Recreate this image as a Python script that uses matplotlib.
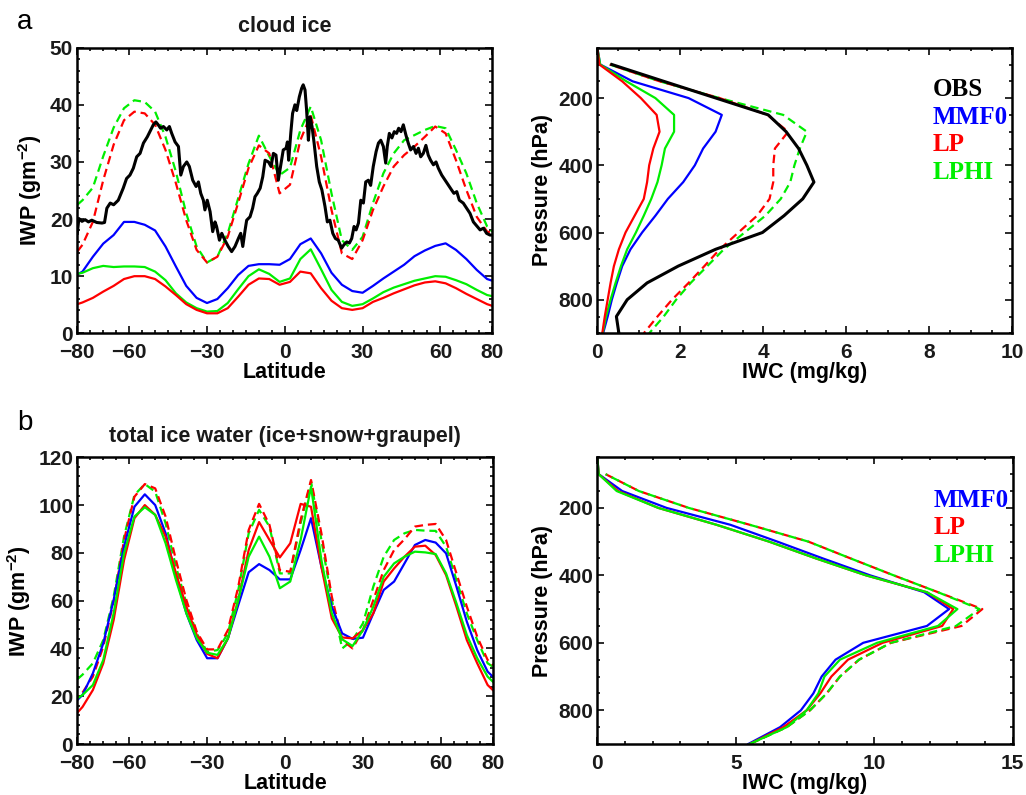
import numpy as np
import matplotlib
matplotlib.use('Agg')
import matplotlib.pyplot as plt
from matplotlib.ticker import MultipleLocator

# ---- data -------------------------------------------------------------------
# model latitudes (4 degree grid plus edges)
lat = [-80, -78, -74, -70, -66, -62, -58, -54, -50, -46, -42, -38, -34, -30, -26,
       -22, -18, -14, -10, -6, -2, 2, 6, 10, 14, 18, 22, 26, 30, 34, 38, 42, 46,
       50, 54, 58, 62, 66, 70, 74, 78, 80]

# (a) cloud ice IWP
ci_mmf0 = [10.3, 10.8, 13.4, 15.7, 17.2, 19.5, 19.5, 19.0, 18.0, 15.2, 11.7, 8.3, 6.2,
           5.3, 6.0, 7.9, 10.2, 11.8, 12.1, 12.1, 12.0, 13.0, 15.6, 16.6, 14.0, 10.6,
           8.5, 7.4, 7.1, 8.3, 9.6, 10.8, 12.0, 13.5, 14.5, 15.3, 15.75, 14.6, 13.0,
           11.1, 9.5, 9.2]
ci_lp = [5.1, 5.4, 6.2, 7.3, 8.3, 9.5, 10.0, 10.0, 9.5, 8.2, 6.7, 5.1, 4.1, 3.5, 3.5,
         4.4, 6.4, 8.5, 9.6, 9.5, 8.5, 9.0, 10.8, 10.5, 7.9, 5.7, 4.4, 4.1, 4.4, 5.5,
         6.2, 7.0, 7.7, 8.4, 8.9, 9.1, 8.75, 7.9, 6.9, 6.0, 5.1, 4.8]
ci_lphi = [10.4, 10.6, 11.4, 11.8, 11.6, 11.7, 11.7, 11.6, 10.8, 9.3, 7.0, 5.4, 4.4,
           3.8, 3.9, 5.3, 7.7, 10.0, 11.2, 10.4, 9.0, 9.6, 13.0, 14.7, 11.2, 7.6, 5.5,
           4.8, 5.1, 6.1, 7.2, 8.0, 8.6, 9.2, 9.6, 10.0, 9.9, 9.3, 8.6, 7.6, 6.7, 6.5]
ci_lp_tot = [14.3, 15.5, 19.5, 26.8, 33.0, 37.3, 38.8, 38.5, 36.5, 32.1, 26.3, 19.8,
             14.6, 12.4, 13.4, 16.9, 22.8, 28.9, 32.9, 31.5, 24.5, 26.0, 33.8, 38.2,
             30.9, 21.6, 14.0, 13.0, 16.3, 21.6, 25.7, 29.2, 31.2, 32.7, 34.4, 36.2,
             35.0, 30.3, 25.1, 20.4, 17.8, 17.6]
ci_lphi_tot = [22.5, 23.3, 25.5, 31.0, 36.0, 39.4, 40.8, 40.5, 38.8, 34.4, 28.3, 21.0,
               15.2, 12.4, 13.4, 17.5, 23.6, 29.7, 34.6, 31.0, 27.7, 29.0, 35.6, 39.7,
               33.8, 24.5, 16.3, 14.6, 16.9, 22.8, 28.0, 31.5, 33.8, 34.7, 35.6, 36.3,
               35.9, 32.1, 28.0, 22.8, 18.7, 17.8]

obs_lat = [-80.0, -79.4, -78.2, -77.0, -75.7, -74.4, -72.5, -70.5, -69.5, -68.6, -67.3,
           -66.0, -64.2, -62.3, -61.0, -59.7, -58.4, -57.1, -55.8, -54.5, -53.0, -52.0,
           -50.7, -49.7, -48.8, -47.9, -46.8, -45.5, -44.5, -43.6, -42.3, -41.0, -40.1,
           -39.1, -37.8, -36.8, -35.5, -34.2, -33.3, -32.4, -31.4, -30.8, -29.9, -28.8,
           -27.8, -26.9, -26.3, -25.2, -24.3, -23.1, -21.8, -20.5, -19.2, -17.9, -17.0,
           -16.2, -15.3, -14.7, -13.4, -12.4, -11.5, -10.6, -9.5, -8.5, -7.6, -6.3,
           -5.3, -4.4, -3.4, -2.5, -1.4, -0.6, 0.5, 1.0, 1.5, 2.3, 3.0, 3.9, 4.6, 5.6,
           6.5, 7.1, 7.8, 8.4, 9.1, 9.7, 10.5, 11.3, 12.3, 13.3, 14.3, 15.5, 16.4,
           17.4, 18.5, 19.5, 20.6, 21.9, 22.8, 23.9, 24.9, 25.8, 26.7, 27.5, 28.4,
           29.3, 30.3, 31.2, 32.2, 33.1, 34.1, 35.2, 36.1, 37.0, 38.0, 38.9, 39.5,
           40.3, 41.3, 42.2, 43.1, 43.9, 44.8, 45.7, 46.7, 47.6, 48.5, 49.6, 50.6,
           51.5, 52.4, 53.4, 54.4, 55.3, 56.2, 57.3, 58.3, 59.2, 60.5, 61.8, 63.1,
           64.3, 65.2, 66.3, 67.3, 68.8, 70.1, 71.4, 72.7, 74.2, 75.3, 76.6, 77.8,
           79.1, 80.0]
obs_iwp = [17.5, 20.1, 19.6, 19.9, 19.5, 19.8, 19.4, 19.3, 19.4, 21.9, 22.8, 22.5, 23.3,
           25.4, 27.1, 27.7, 28.9, 30.9, 31.5, 33.3, 34.4, 35.3, 36.5, 37.0, 36.5, 35.9,
           36.2, 35.6, 36.2, 35.0, 33.5, 32.7, 27.7, 29.2, 30.0, 29.2, 26.8, 25.7, 26.5,
           24.5, 23.3, 21.6, 23.3, 21.3, 17.8, 19.5, 18.7, 16.3, 17.5, 16.3, 15.2, 14.3,
           15.2, 16.6, 17.5, 15.2, 18.1, 19.8, 20.4, 21.9, 23.9, 24.5, 25.4, 27.4, 30.3,
           30.0, 29.2, 31.5, 31.2, 26.8, 29.8, 32.1, 32.4, 33.5, 30.3, 35.0, 38.5, 40.0,
           39.0, 41.4, 42.9, 43.5, 42.6, 39.1, 33.8, 37.9, 36.2, 33.3, 29.2, 26.5, 25.1,
           22.2, 19.5, 19.8, 17.5, 16.6, 16.3, 14.9, 15.5, 16.0, 15.8, 16.6, 18.7, 18.1,
           19.3, 23.3, 22.8, 26.5, 26.8, 25.9, 29.2, 31.8, 33.3, 33.8, 32.7, 29.8, 32.7,
           35.0, 34.2, 35.3, 35.0, 35.9, 35.3, 36.5, 34.7, 33.3, 32.1, 32.7, 31.5, 32.4,
           30.9, 31.5, 32.9, 31.2, 30.3, 29.5, 30.0, 28.9, 27.7, 26.8, 25.9, 25.1, 24.5,
           24.8, 23.3, 22.8, 21.9, 21.0, 19.5, 18.7, 18.1, 18.4, 17.5, 17.2, 17.2]

# (b) total ice water IWP
ti_mmf0 = [18.4, 20.5, 29.6, 42.1, 60.3, 82.6, 99.3, 104.5, 100.0, 88.2, 70.0, 54.7,
           43.5, 35.9, 35.9, 44.2, 58.2, 71.9, 75.3, 72.8, 68.9, 68.9, 81.2, 94.5, 74.2,
           57.5, 46.3, 44.0, 44.5, 54.7, 64.5, 68.0, 75.6, 83.3, 85.4, 84.3, 79.8, 65.9,
           51.2, 39.3, 30.3, 28.2]
ti_lp = [13.1, 15.5, 22.6, 33.8, 51.9, 77.0, 94.5, 100.0, 95.9, 86.8, 71.4, 57.5, 45.6,
         37.7, 35.9, 44.2, 60.3, 81.2, 92.9, 85.4, 78.1, 84.0, 100.5, 99.3, 74.2, 52.6,
         44.6, 44.2, 47.7, 54.7, 68.0, 73.5, 78.4, 82.6, 83.0, 79.1, 70.7, 57.5, 43.5,
         33.8, 24.7, 22.6]
ti_lphi = [19.1, 20.5, 24.7, 35.2, 54.7, 79.8, 95.2, 99.1, 95.9, 84.0, 68.6, 54.7, 44.2,
           38.2, 37.3, 44.2, 60.3, 78.4, 86.8, 78.4, 65.2, 68.0, 85.4, 107.7, 77.0, 54.7,
           43.8, 41.0, 47.7, 57.5, 70.0, 75.6, 78.4, 80.5, 80.2, 79.5, 71.4, 58.9, 45.6,
           35.9, 28.2, 26.1]
ti_lp_tot = [19.8, 21.5, 28.2, 40.7, 59.6, 85.4, 103.5, 108.8, 107.0, 95.2, 77.0, 60.3,
             47.0, 39.6, 39.6, 47.7, 65.9, 89.6, 100.5, 91.7, 72.8, 72.1, 93.8, 110.5,
             88.2, 61.7, 43.5, 40.0, 47.7, 60.3, 72.8, 81.2, 85.7, 91.0, 91.7, 92.1,
             85.4, 71.4, 57.5, 44.9, 35.2, 33.1]
ti_lphi_tot = [27.1, 29.0, 33.8, 43.5, 61.7, 86.8, 104.2, 108.8, 105.6, 92.4, 74.2, 58.9,
               46.3, 38.6, 39.3, 46.3, 64.5, 88.2, 98.0, 91.0, 71.4, 71.4, 92.4, 109.8,
               85.4, 60.3, 40.0, 43.5, 50.5, 65.9, 78.4, 85.4, 88.2, 89.6, 89.3, 89.2,
               82.6, 68.6, 54.7, 43.5, 33.8, 32.4]

# pressure levels for profiles
plev = [50, 100, 150, 200, 250, 300, 350, 400, 450, 500, 550, 600, 650, 700, 750, 800,
        850, 900]

# (a) cloud ice IWC profiles
iwc_obs = [np.nan, 0.35, 1.6, 2.86, 4.12, 4.55, 4.85, 5.05, 5.22, 4.95, 4.5, 3.98,
           2.85, 1.95, 1.2, 0.72, 0.46, 0.52]
iwc_mmf0 = [0.0, 0.07, 0.85, 2.2, 3.0, 2.85, 2.55, 2.35, 2.07, 1.7, 1.4, 1.08, 0.8,
            0.6, 0.47, 0.35, 0.25, 0.14]
iwc_lp = [0.0, 0.05, 0.6, 1.05, 1.43, 1.5, 1.35, 1.25, 1.2, 1.12, 0.9, 0.68, 0.52, 0.4,
          0.32, 0.25, 0.18, 0.12]
iwc_lphi = [0.0, 0.07, 0.7, 1.4, 1.85, 1.85, 1.63, 1.55, 1.45, 1.3, 1.12, 0.93, 0.72,
            0.57, 0.44, 0.32, 0.21, 0.13]
iwc_lp_tot = [np.nan, 0.3, 1.5, 2.95, 4.1, 4.6, 4.28, 4.24, 4.24, 4.15, 3.85, 3.4,
              2.95, 2.58, 2.2, 1.8, 1.45, 1.12]
iwc_lphi_tot = [np.nan, 0.3, 1.5, 2.95, 4.48, 5.05, 4.88, 4.75, 4.65, 4.42, 4.05, 3.55,
                3.05, 2.65, 2.25, 1.9, 1.6, 1.25]

# (b) total ice water IWC profiles
tiwc_mmf0 = [0.0, 0.05, 0.9, 2.5, 4.8, 6.5, 8.15, 9.85, 11.8, 12.7, 11.9, 9.6, 8.6, 8.1,
             7.8, 7.35, 6.6, 5.45]
tiwc_lp = [0.0, 0.05, 0.75, 2.2, 4.3, 6.2, 7.9, 9.7, 11.9, 12.85, 12.45, 10.3, 9.05,
           8.45, 8.05, 7.56, 6.72, 5.5]
tiwc_lphi = [0.0, 0.05, 0.7, 2.2, 4.3, 6.2, 7.9, 9.7, 11.9, 13.0, 12.3, 10.1, 8.76, 8.2,
             7.98, 7.56, 6.84, 5.5]
tiwc_lp_tot = [np.nan, 0.3, 1.5, 3.3, 5.5, 7.62, 9.15, 10.7, 12.3, 13.9, 13.15, 10.6,
               9.45, 8.76, 8.28, 7.68, 6.84, 5.5]
tiwc_lphi_tot = [np.nan, 0.3, 1.5, 3.3, 5.5, 7.62, 9.15, 10.7, 12.3, 13.8, 12.95, 10.6,
                 9.45, 8.76, 8.28, 7.68, 6.84, 5.5]

names = ['OBS', 'MMF0', 'LP', 'LPHI']
colors = ['black', 'blue', 'red', '#00ee00']

# ---- style ------------------------------------------------------------------
plt.rcParams['font.family'] = ['Liberation Sans', 'DejaVu Sans']
plt.rcParams['font.weight'] = 'bold'
plt.rcParams['mathtext.fontset'] = 'custom'
plt.rcParams['mathtext.rm'] = 'Liberation Sans:bold'
plt.rcParams['mathtext.it'] = 'Liberation Sans:bold'
plt.rcParams['mathtext.bf'] = 'Liberation Sans:bold'
plt.rcParams['text.color'] = '#1a1a1a'

LW = 1.6
DASH_A = (0, (3.8, 2.2))      # in units of linewidth
DASH_B = (3.0, (3.8, 2.2))    # shifted phase so overlapping dashes alternate


def style_axes(ax):
    for s in ax.spines.values():
        s.set_linewidth(1.8)
    ax.tick_params(which='both', direction='in', top=True, right=True,
                   labelsize=15, colors='#1a1a1a', width=1.3)
    ax.tick_params(which='major', length=5)
    ax.tick_params(which='minor', length=2.5)
    ax.tick_params(axis='x', which='major', pad=7)
    ax.tick_params(axis='y', which='major', pad=3)
    for t in ax.get_xticklabels() + ax.get_yticklabels():
        t.set_fontweight('bold')


def lat_axes(ax, ymax, ystep):
    ax.set_xlim(-80, 80)
    ax.set_ylim(0, ymax)
    ax.set_xticks([-80, -60, -30, 0, 30, 60, 80])
    ax.xaxis.set_minor_locator(MultipleLocator(5))
    ax.yaxis.set_major_locator(MultipleLocator(ystep))
    ax.yaxis.set_minor_locator(MultipleLocator(ystep / 5))
    ax.set_xlabel('Latitude', fontsize=15.5, fontweight='bold', labelpad=0)
    ax.set_ylabel(r'IWP (gm$^{-2}$)', fontsize=15.5, fontweight='bold', labelpad=4)
    style_axes(ax)


def prof_axes(ax, xmax, xstep, xminor):
    ax.set_xlim(0, xmax)
    ax.set_ylim(900, 50)
    ax.set_yticks([200, 400, 600, 800])
    ax.xaxis.set_major_locator(MultipleLocator(xstep))
    ax.xaxis.set_minor_locator(MultipleLocator(xminor))
    ax.yaxis.set_minor_locator(MultipleLocator(50))
    ax.set_xlabel('IWC (mg/kg)', fontsize=15.5, fontweight='bold', labelpad=0)
    ax.set_ylabel('Pressure (hPa)', fontsize=15.5, fontweight='bold', labelpad=4)
    style_axes(ax)


def legend_text(ax, labels, cols, y0):
    for i, (lab, c) in enumerate(zip(labels, cols)):
        ax.text(0.809, y0 - i * 0.096, lab, transform=ax.transAxes, color=c,
                family=['Liberation Serif', 'DejaVu Serif'], fontweight='bold',
                fontsize=18, va='center', ha='left')


fig = plt.figure(figsize=(10.26, 7.95), dpi=100)
W, H = 1026.0, 795.0
ax1 = fig.add_axes([77.3 / W, 1 - 333.3 / H, 415 / W, 285.6 / H])
ax2 = fig.add_axes([597.3 / W, 1 - 333.3 / H, 415 / W, 285.6 / H])
ax3 = fig.add_axes([77.3 / W, 1 - 744 / H, 415.5 / W, 286.7 / H])
ax4 = fig.add_axes([597.3 / W, 1 - 744 / H, 415.5 / W, 286.7 / H])

# (a) left
ax1.plot(lat, ci_lphi_tot, color=colors[3], lw=LW, ls=DASH_A)
ax1.plot(lat, ci_lp_tot, color=colors[2], lw=LW, ls=DASH_A)
ax1.plot(obs_lat, obs_iwp, color=colors[0], lw=2.2)
ax1.plot(lat, ci_mmf0, color=colors[1], lw=LW)
ax1.plot(lat, ci_lphi, color=colors[3], lw=LW)
ax1.plot(lat, ci_lp, color=colors[2], lw=LW)
lat_axes(ax1, 50, 10)
ax1.set_title('cloud ice', fontsize=15.5, fontweight='bold', pad=11)

# (a) right
ax2.plot(iwc_lphi_tot, plev, color=colors[3], lw=LW, ls=DASH_A)
ax2.plot(iwc_lp_tot, plev, color=colors[2], lw=LW, ls=DASH_B)
ax2.plot(iwc_obs, plev, color=colors[0], lw=2.2)
ax2.plot(iwc_mmf0, plev, color=colors[1], lw=LW)
ax2.plot(iwc_lphi, plev, color=colors[3], lw=LW)
ax2.plot(iwc_lp, plev, color=colors[2], lw=LW)
prof_axes(ax2, 10, 2, 0.5)
legend_text(ax2, names, colors, 0.852)

# (b) left
ax3.plot(lat, ti_lphi_tot, color=colors[3], lw=LW, ls=DASH_A)
ax3.plot(lat, ti_lp_tot, color=colors[2], lw=LW, ls=DASH_B)
ax3.plot(lat, ti_mmf0, color=colors[1], lw=LW)
ax3.plot(lat, ti_lp, color=colors[2], lw=LW)
ax3.plot(lat, ti_lphi, color=colors[3], lw=LW)
lat_axes(ax3, 120, 20)
ax3.set_title('total ice water (ice+snow+graupel)', fontsize=15.5,
              fontweight='bold', pad=11)

# (b) right
ax4.plot(tiwc_lp_tot, plev, color=colors[2], lw=LW, ls=DASH_A)
ax4.plot(tiwc_lphi_tot, plev, color=colors[3], lw=LW, ls=DASH_B)
ax4.plot(tiwc_mmf0, plev, color=colors[1], lw=LW)
ax4.plot(tiwc_lp, plev, color=colors[2], lw=LW)
ax4.plot(tiwc_lphi, plev, color=colors[3], lw=LW)
prof_axes(ax4, 15, 5, 1)
legend_text(ax4, names[1:], colors[1:], 0.851)

fig.text(25 / W, 1 - 22 / H, 'a', fontsize=20, fontweight='normal',
         ha='center', va='center', color='black')
fig.text(25 / W, 1 - 423 / H, 'b', fontsize=20, fontweight='normal',
         ha='center', va='center', color='black')

fig.savefig('out.png', dpi=100)
